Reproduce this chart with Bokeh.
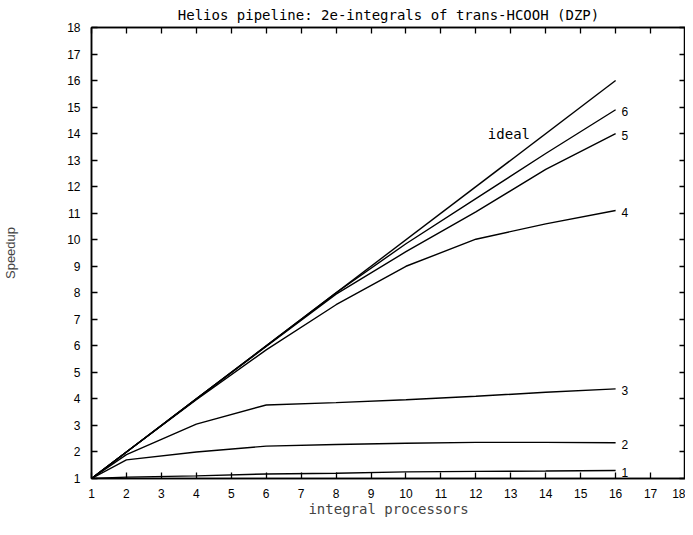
from bokeh.plotting import figure
from bokeh.models import LinearAxis, Range1d, FixedTicker, ColumnDataSource, CustomLabelingPolicy
from bokeh.core.properties import value
from bokeh.embed import file_html
from bokeh.resources import INLINE

# ---- data ----
procs = [1, 2, 4, 6, 8, 10, 12, 14, 16]
ideal_x = [1, 16]
ideal_y = [1, 16]
run1 = [1.0, 1.05, 1.10, 1.17, 1.20, 1.25, 1.27, 1.28, 1.30]
run2 = [1.0, 1.70, 2.00, 2.22, 2.28, 2.33, 2.36, 2.36, 2.35]
run3 = [1.0, 1.90, 3.05, 3.77, 3.86, 3.97, 4.10, 4.25, 4.38]
run4 = [1.0, 2.00, 3.97, 5.85, 7.55, 9.00, 10.02, 10.60, 11.10]
run5 = [1.0, 2.00, 4.00, 5.98, 7.95, 9.55, 11.05, 12.65, 14.00]
run6 = [1.0, 2.00, 4.00, 6.00, 8.00, 9.85, 11.55, 13.25, 14.90]
run_labels = ["1", "2", "3", "4", "5", "6"]
ticks = list(range(1, 19))

MONO = "DejaVu Sans Mono"
SANS = "Liberation Sans"

p = figure(width=685, height=519,
           x_range=Range1d(1, 18), y_range=Range1d(1, 18),
           output_backend="svg", toolbar_location=None,
           min_border_left=90, min_border_right=0,
           min_border_top=24, min_border_bottom=30,
           title="Helios pipeline: 2e-integrals of trans-HCOOH (DZP)")
p.background_fill_color = "white"
p.border_fill_color = "white"
p.outline_line_color = "black"
p.outline_line_width = 1.5
p.grid.visible = False

p.title.align = "center"
p.title.text_font = MONO
p.title.text_font_size = "14px"
p.title.text_font_style = "normal"
p.title.text_color = "black"
p.title.offset = 0
p.title.standoff = 9

for ax in (p.xaxis[0], p.yaxis[0]):
    ax.ticker = FixedTicker(ticks=ticks)
    ax.major_tick_in = 6
    ax.major_tick_out = 0
    ax.minor_tick_line_color = None
    ax.axis_line_color = "black"
    ax.axis_line_width = 1.5
    ax.major_tick_line_color = "black"
    ax.major_tick_line_width = 1.3
    ax.major_label_text_font = SANS
    ax.major_label_text_font_size = "12px"
    ax.major_label_text_color = "black"

p.xaxis.axis_label = "integral processors"
p.xaxis.axis_label_text_font = MONO
p.xaxis.axis_label_text_font_size = "14px"
p.xaxis.axis_label_text_font_style = "normal"
p.xaxis.axis_label_standoff = 0
p.xaxis.major_label_standoff = 10

p.yaxis.axis_label = "Speedup"
p.yaxis.axis_label_text_font = SANS
p.yaxis.axis_label_text_font_size = "13px"
p.yaxis.axis_label_text_font_style = "normal"
p.yaxis.axis_label_standoff = 46
p.yaxis.major_label_standoff = 11
p.yaxis.major_label_orientation = "horizontal"

hide_all = CustomLabelingPolicy(code="""
try { for (let i = 0; i < indices.size; i++) indices.unset(i); } catch (e) {}
return indices
""")

for side in ("above", "right"):
    ax = LinearAxis(ticker=FixedTicker(ticks=ticks),
                    major_tick_in=6, major_tick_out=0,
                    major_label_text_font_size="0px",
                    major_label_standoff=0,
                    major_label_policy=hide_all,
                    minor_tick_line_color=None,
                    axis_line_color="black", axis_line_width=1.5,
                    major_tick_line_color="black", major_tick_line_width=1.3)
    p.add_layout(ax, side)

# ---- lines ----
p.line(ideal_x, ideal_y, line_color="black", line_width=1.4)
runs = [run1, run2, run3, run4, run5, run6]
for r in runs:
    p.line(procs, r, line_color="black", line_width=1.4)

# labels at curve ends
src = ColumnDataSource(dict(x=[procs[-1]] * len(runs),
                            y=[r[-1] for r in runs],
                            t=run_labels))
p.text(x="x", y="y", text="t", source=src, x_offset=6, y_offset=2,
       text_font=value(SANS), text_font_size="12px",
       text_baseline="middle", text_align="left", text_color="black")

p.text(x=[13.55], y=[14.0], text=["ideal"], text_font=value(MONO),
       text_font_size="14px", text_baseline="middle", text_align="right",
       text_color="black")

open("out.html", "w").write(file_html(p, INLINE))
